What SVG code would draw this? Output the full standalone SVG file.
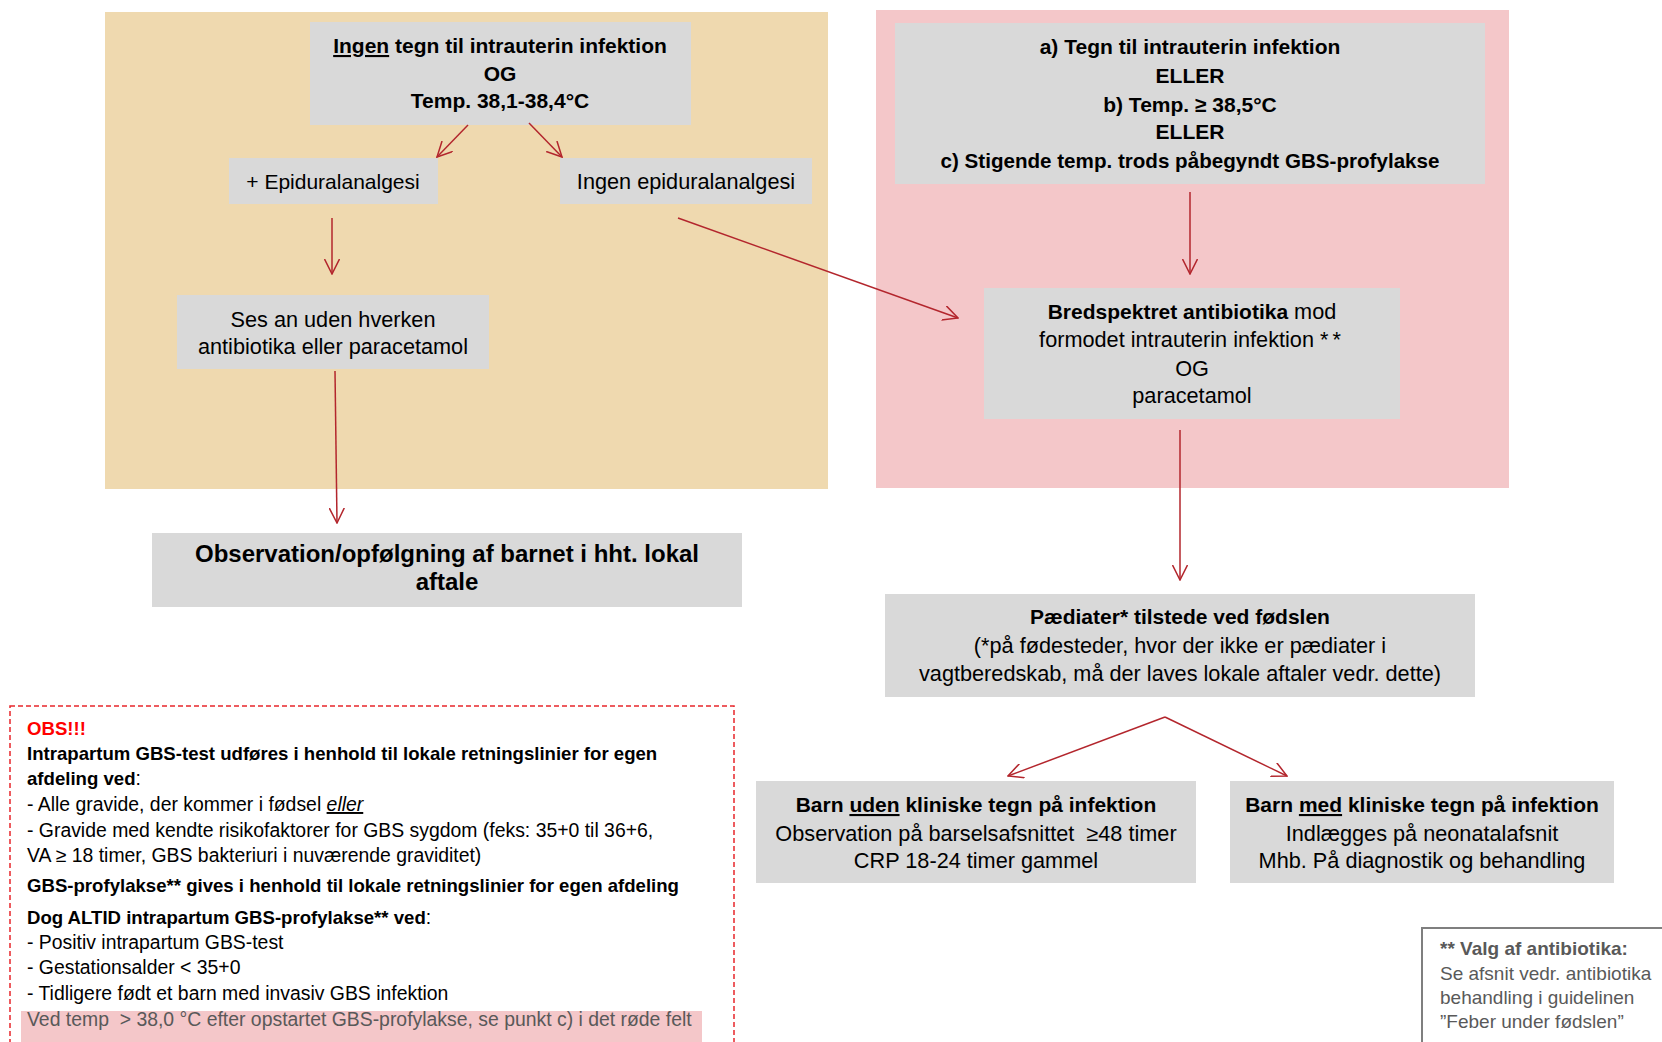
<svg xmlns="http://www.w3.org/2000/svg" width="1662" height="1042" viewBox="0 0 1662 1042">
<defs>
<marker id="arr" viewBox="0 0 16 16" refX="15" refY="8" markerWidth="16" markerHeight="16" markerUnits="userSpaceOnUse" orient="auto">
<path d="M0,0.5 L15,8 L0,15.5" fill="none" stroke="#B3262D" stroke-width="1.5"/>
</marker>
<style>
.box{fill:#D9D9D9}
.t{font-family:'Liberation Sans',Arial,sans-serif;font-size:21.7px;fill:#000;text-anchor:middle}
.b{font-weight:bold}
.t.b{font-size:21px}
.o{font-family:'Liberation Sans',Arial,sans-serif;font-size:19.4px;fill:#000}
.o .b,.o.b{font-size:18.6px}
.f{font-family:'Liberation Sans',Arial,sans-serif;font-size:19px;fill:#595959}
.u{text-decoration:underline}
.conn line{stroke:#B3262D;stroke-width:1.5;fill:none;marker-end:url(#arr)}
</style>
</defs>
<rect width="1662" height="1042" fill="#FFFFFF"/>
<g id="zone-tan"><rect x="105" y="12" width="723" height="477" fill="#EFD9AF"/></g>
<g id="zone-pink"><rect x="876" y="10" width="633" height="478" fill="#F4C7C9"/></g>

<g id="n-ingen">
<rect class="box" x="310" y="22" width="381" height="103"/>
<text class="t b" x="500" y="53"><tspan class="u">Ingen</tspan> tegn til intrauterin infektion</text>
<text class="t b" x="500" y="81">OG</text>
<text class="t b" x="500" y="108">Temp. 38,1-38,4°C</text>
</g>
<g id="n-epi">
<rect class="box" x="229" y="158" width="209" height="46"/>
<text class="t" x="333" y="189" style="font-size:21px">+ Epiduralanalgesi</text>
</g>
<g id="n-noepi">
<rect class="box" x="560" y="158" width="252" height="46"/>
<text class="t" x="686" y="189">Ingen epiduralanalgesi</text>
</g>
<g id="n-ses">
<rect class="box" x="177" y="295" width="312" height="74"/>
<text class="t" x="333" y="327">Ses an uden hverken</text>
<text class="t" x="333" y="354">antibiotika eller paracetamol</text>
</g>
<g id="n-obsbarn">
<rect class="box" x="152" y="533" width="590" height="74"/>
<text class="t b" x="447" y="562" style="font-size:24px">Observation/opfølgning af barnet i hht. lokal</text>
<text class="t b" x="447" y="590" style="font-size:24px">aftale</text>
</g>
<g id="n-tegn">
<rect class="box" x="895" y="23" width="590" height="161"/>
<text class="t b" x="1190" y="54">a) Tegn til intrauterin infektion</text>
<text class="t b" x="1190" y="83">ELLER</text>
<text class="t b" x="1190" y="112">b) Temp. ≥ 38,5°C</text>
<text class="t b" x="1190" y="139">ELLER</text>
<text class="t b" x="1190" y="168" style="font-size:20.6px">c) Stigende temp. trods påbegyndt GBS-profylakse</text>
</g>
<g id="n-bred">
<rect class="box" x="984" y="288" width="416" height="131"/>
<text class="t" x="1192" y="319"><tspan class="b" style="font-size:21px">Bredspektret antibiotika</tspan> mod</text>
<text class="t" x="1192" y="347">formodet intrauterin infektion <tspan letter-spacing="4">**</tspan></text>
<text class="t" x="1192" y="376">OG</text>
<text class="t" x="1192" y="403">paracetamol</text>
</g>
<g id="n-paed">
<rect class="box" x="885" y="594" width="590" height="103"/>
<text class="t b" x="1180" y="624">Pædiater* tilstede ved fødslen</text>
<text class="t" x="1180" y="653">(*på fødesteder, hvor der ikke er pædiater i</text>
<text class="t" x="1180" y="681">vagtberedskab, må der laves lokale aftaler vedr. dette)</text>
</g>
<g id="n-uden">
<rect class="box" x="756" y="781" width="440" height="102"/>
<text class="t b" x="976" y="812">Barn <tspan class="u">uden</tspan> kliniske tegn på infektion</text>
<text class="t" x="976" y="841">Observation på barselsafsnittet &#160;≥48 timer</text>
<text class="t" x="976" y="868">CRP 18-24 timer gammel</text>
</g>
<g id="n-med">
<rect class="box" x="1230" y="781" width="384" height="102"/>
<text class="t b" x="1422" y="812">Barn <tspan class="u">med</tspan> kliniske tegn på infektion</text>
<text class="t" x="1422" y="841">Indlægges på neonatalafsnit</text>
<text class="t" x="1422" y="868">Mhb. På diagnostik og behandling</text>
</g>

<g id="n-obs">
<rect x="10" y="706" width="724" height="345" fill="none" stroke="#E8262B" stroke-width="1.5" stroke-dasharray="5,3"/>
<rect x="21" y="1011" width="681" height="31" fill="#F4C7C9"/>
<text class="o b" x="27" y="735" style="fill:#FF0000">OBS!!!</text>
<text class="o b" x="27" y="760">Intrapartum GBS-test udføres i henhold til lokale retningslinier for egen</text>
<text class="o" x="27" y="785"><tspan class="b">afdeling ved</tspan>:</text>
<text class="o" x="27" y="811">- Alle gravide, der kommer i fødsel <tspan class="u" font-style="italic">eller</tspan></text>
<text class="o" x="27" y="837">- Gravide med kendte risikofaktorer for GBS sygdom (feks: 35+0 til 36+6,</text>
<text class="o" x="27" y="862">VA ≥ 18 timer, GBS bakteriuri i nuværende graviditet)</text>
<text class="o b" x="27" y="892">GBS-profylakse** gives i henhold til lokale retningslinier for egen afdeling</text>
<text class="o" x="27" y="924"><tspan class="b">Dog ALTID intrapartum GBS-profylakse** ved</tspan>:</text>
<text class="o" x="27" y="949">- Positiv intrapartum GBS-test</text>
<text class="o" x="27" y="974">- Gestationsalder &lt; 35+0</text>
<text class="o" x="27" y="1000">- Tidligere født et barn med invasiv GBS infektion</text>
<text class="o" x="27" y="1026" style="fill:#595959">Ved temp &#160;&gt; 38,0 °C efter opstartet GBS-profylakse, se punkt c) i det røde felt</text>
</g>

<g id="n-fodnote">
<path d="M1422,1042 L1422,928 L1662,928" fill="none" stroke="#7F7F7F" stroke-width="2"/>
<text class="f b" x="1440" y="955">** Valg af antibiotika:</text>
<text class="f" x="1440" y="980">Se afsnit vedr. antibiotika</text>
<text class="f" x="1440" y="1004">behandling i guidelinen</text>
<text class="f" x="1440" y="1028">”Feber under fødslen”</text>
</g>

<g id="connectors" class="conn">
<line x1="468" y1="125" x2="437" y2="157"/>
<line x1="529" y1="123" x2="562" y2="157"/>
<line x1="332" y1="218" x2="332" y2="274"/>
<line x1="335" y1="371" x2="337" y2="523"/>
<line x1="678" y1="218" x2="958" y2="318"/>
<line x1="1190" y1="192" x2="1190" y2="274"/>
<line x1="1180" y1="430" x2="1180" y2="580"/>
<line x1="1165" y1="717" x2="1008" y2="776"/>
<line x1="1165" y1="717" x2="1287" y2="776"/>
</g>
</svg>
